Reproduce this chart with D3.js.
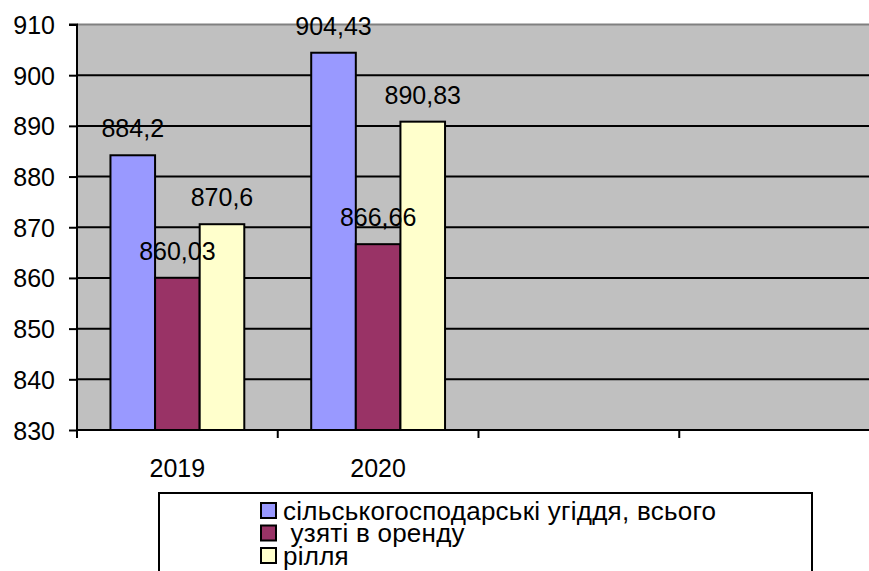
<!DOCTYPE html>
<html><head><meta charset="utf-8">
<script src="https://cdn.jsdelivr.net/npm/d3@7"></script>
<style>
html,body{margin:0;padding:0;background:#fff;}
svg{display:block;font-family:"Liberation Sans",Arial,sans-serif;}
</style></head>
<body>
<svg id="c" width="869" height="571"></svg>
<script>
const categories = ["2019", "2020", "", ""];
const seriesNames = ["сільськогосподарські угіддя, всього", " узяті в оренду", "рілля"];
const seriesColors = ["#9999FF", "#993366", "#FFFFCC"];
const valuesTotal = [884.2, 904.43, null, null];
const valuesRented = [860.03, 866.66, null, null];
const valuesArable = [870.6, 890.83, null, null];
const labelsTotal = ["884,2", "904,43"];
const labelsRented = ["860,03", "866,66"];
const labelsArable = ["870,6", "890,83"];
const yTicks = [830, 840, 850, 860, 870, 880, 890, 900, 910];

const series = [
  {name: seriesNames[0], color: seriesColors[0], values: valuesTotal, labels: labelsTotal},
  {name: seriesNames[1], color: seriesColors[1], values: valuesRented, labels: labelsRented},
  {name: seriesNames[2], color: seriesColors[2], values: valuesArable, labels: labelsArable}
];

const svg = d3.select("#c");
const L = 77, R = 880, T = 24.5, B = 430;
const catKeys = categories.map((c, i) => "k" + i);
const x0 = d3.scaleBand().domain(catKeys).range([L, R]).paddingInner(0).paddingOuter(0);
const bw = x0.bandwidth();
const x1 = d3.scaleBand().domain(series.map((s, i) => i)).range([bw / 6, bw - bw / 6]).padding(0);
const y = d3.scaleLinear().domain([830, 910]).range([B, T]);

const FS = 25;
const textStyle = sel => sel.attr("font-size", FS).attr("fill", "#000");

// plot area
svg.append("rect").attr("x", L).attr("y", T).attr("width", R - L).attr("height", B - T).attr("fill", "#C0C0C0");

// gridlines
svg.append("g").selectAll("line").data(yTicks.filter(t => t > 830 && t < 910)).join("line")
  .attr("x1", L).attr("x2", R).attr("y1", d => y(d)).attr("y2", d => y(d))
  .attr("stroke", "#000").attr("stroke-width", 2);
// top border
svg.append("line").attr("x1", L).attr("x2", R).attr("y1", T).attr("y2", T).attr("stroke", "#808080").attr("stroke-width", 2);

// bars
series.forEach((s, si) => {
  const g = svg.append("g");
  const data = s.values.map((v, i) => ({v, i})).filter(d => d.v != null);
  g.selectAll("rect").data(data).join("rect")
    .attr("x", d => x0(catKeys[d.i]) + x1(si))
    .attr("y", d => y(d.v))
    .attr("width", x1.bandwidth())
    .attr("height", d => y(830) - y(d.v))
    .attr("fill", s.color).attr("stroke", "#000").attr("stroke-width", 2);
});
// labels
series.forEach((s, si) => {
  const data = s.values.map((v, i) => ({v, i})).filter(d => d.v != null);
  svg.append("g").selectAll("text").data(data).join("text")
    .attr("x", d => x0(catKeys[d.i]) + x1(si) + x1.bandwidth() / 2)
    .attr("y", d => y(d.v) - 18)
    .attr("text-anchor", "middle")
    .call(textStyle)
    .text(d => s.labels[d.i]);
});

// y axis
const yAxis = d3.axisLeft(y).tickValues(yTicks).tickSize(8).tickPadding(14).tickFormat(d3.format("d"));
const ya = svg.append("g").attr("transform", `translate(${L},0)`).call(yAxis);
ya.select(".domain").attr("stroke", "#000").attr("stroke-width", 2).attr("d", `M-8,${T}H0V${B}`);
ya.selectAll(".tick line").attr("stroke", "#000").attr("stroke-width", 2);
ya.selectAll(".tick text").attr("font-family", null).call(textStyle).attr("dy", "0.36em");

// x axis
const xAxis = d3.axisBottom(x0).tickValues(catKeys).tickSize(0).tickPadding(0).tickFormat((d, i) => categories[i]);
const xa = svg.append("g").attr("transform", `translate(0,${B})`).call(xAxis);
xa.select(".domain").attr("stroke", "#000").attr("stroke-width", 2).attr("d", `M${L},0H${R}`);
xa.selectAll(".tick text").attr("font-family", null).call(textStyle).attr("y", 47).attr("dy", null);
// category boundary ticks
svg.append("g").selectAll("line").data(catKeys).join("line")
  .attr("x1", d => x0(d)).attr("x2", d => x0(d)).attr("y1", B).attr("y2", B + 8)
  .attr("stroke", "#000").attr("stroke-width", 2);

// legend
const lg = svg.append("g");
lg.append("rect").attr("x", 159).attr("y", 493).attr("width", 653).attr("height", 120)
  .attr("fill", "#fff").attr("stroke", "#000").attr("stroke-width", 2);
series.forEach((s, i) => {
  const by = 519.5 + i * 22.5;
  lg.append("rect").attr("x", 261).attr("y", by - 16.5).attr("width", 15).attr("height", 15)
    .attr("fill", s.color).attr("stroke", "#000").attr("stroke-width", 2);
  lg.append("text").attr("x", 283).attr("y", by).attr("xml:space", "preserve").style("white-space", "pre")
    .call(textStyle).attr("font-size", 26).attr("letter-spacing", "0.25px").text(s.name);
});
</script>
</body></html>
